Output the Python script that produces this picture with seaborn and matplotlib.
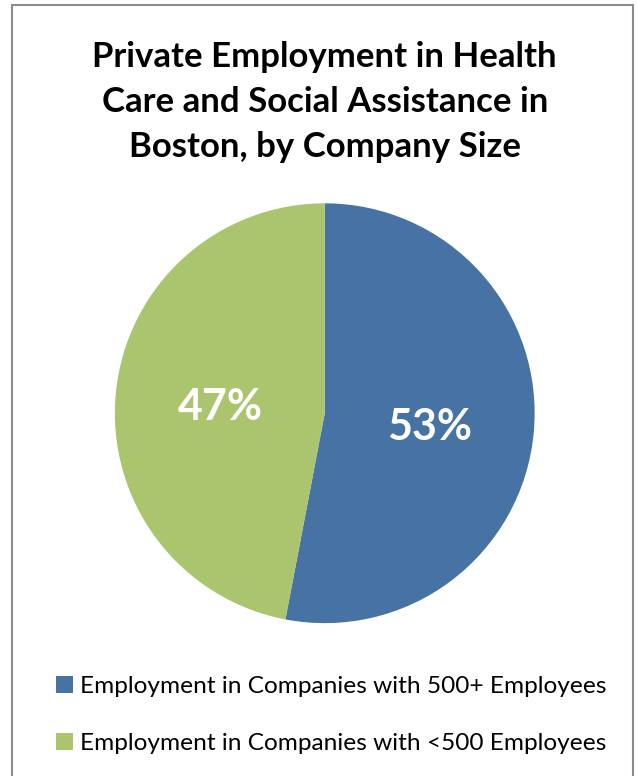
import matplotlib
matplotlib.use('Agg')
import matplotlib.pyplot as plt
import seaborn as sns
from matplotlib.patches import Rectangle

# data
labels = ['Employment in Companies with 500+ Employees',
          'Employment in Companies with <500 Employees']
shares = [53, 47]
colors = ['#4673A3', '#ABC56E']
title = 'Private Employment in Health\nCare and Social Assistance in\nBoston, by Company Size'

sns.set_style('white')
plt.rcParams['font.family'] = ['Lato', 'DejaVu Sans']
plt.rcParams['text.color'] = 'black'

fig = plt.figure(figsize=(6.38, 7.76), dpi=100)

# grey frame around the chart
fig.patches.append(Rectangle((0.019, -0.01), 0.973, 1.0035, transform=fig.transFigure,
                             fill=False, edgecolor='#8c8c8c', linewidth=1.5))

fig.text(0.509, 0.869, title, ha='center', va='center', fontsize=25,
         fontweight='bold', linespacing=1.5, color='black')

ax = fig.add_axes([0.180, 0.197, 0.658, 0.541])
wedges, texts, autotexts = ax.pie(shares, colors=sns.color_palette(colors), startangle=90,
                                  counterclock=False, autopct=lambda p: '%d%%' % round(p),
                                  pctdistance=0.5, wedgeprops=dict(linewidth=0),
                                  textprops=dict(color='white', fontsize=31, fontweight='bold'))
for t in autotexts:
    t.set_va('center_baseline')
ax.set_xlim(-1, 1)
ax.set_ylim(-1, 1)
ax.set_aspect('equal')
ax.axis('off')

fig.legend(wedges, labels, loc='upper left', bbox_to_anchor=(0.073, 0.141),
           frameon=False, fontsize=17.6, handlelength=0.7, handleheight=0.7,
           handletextpad=0.25, labelspacing=1.45, borderaxespad=0, labelcolor='black')

fig.savefig('out.png', dpi=100)
